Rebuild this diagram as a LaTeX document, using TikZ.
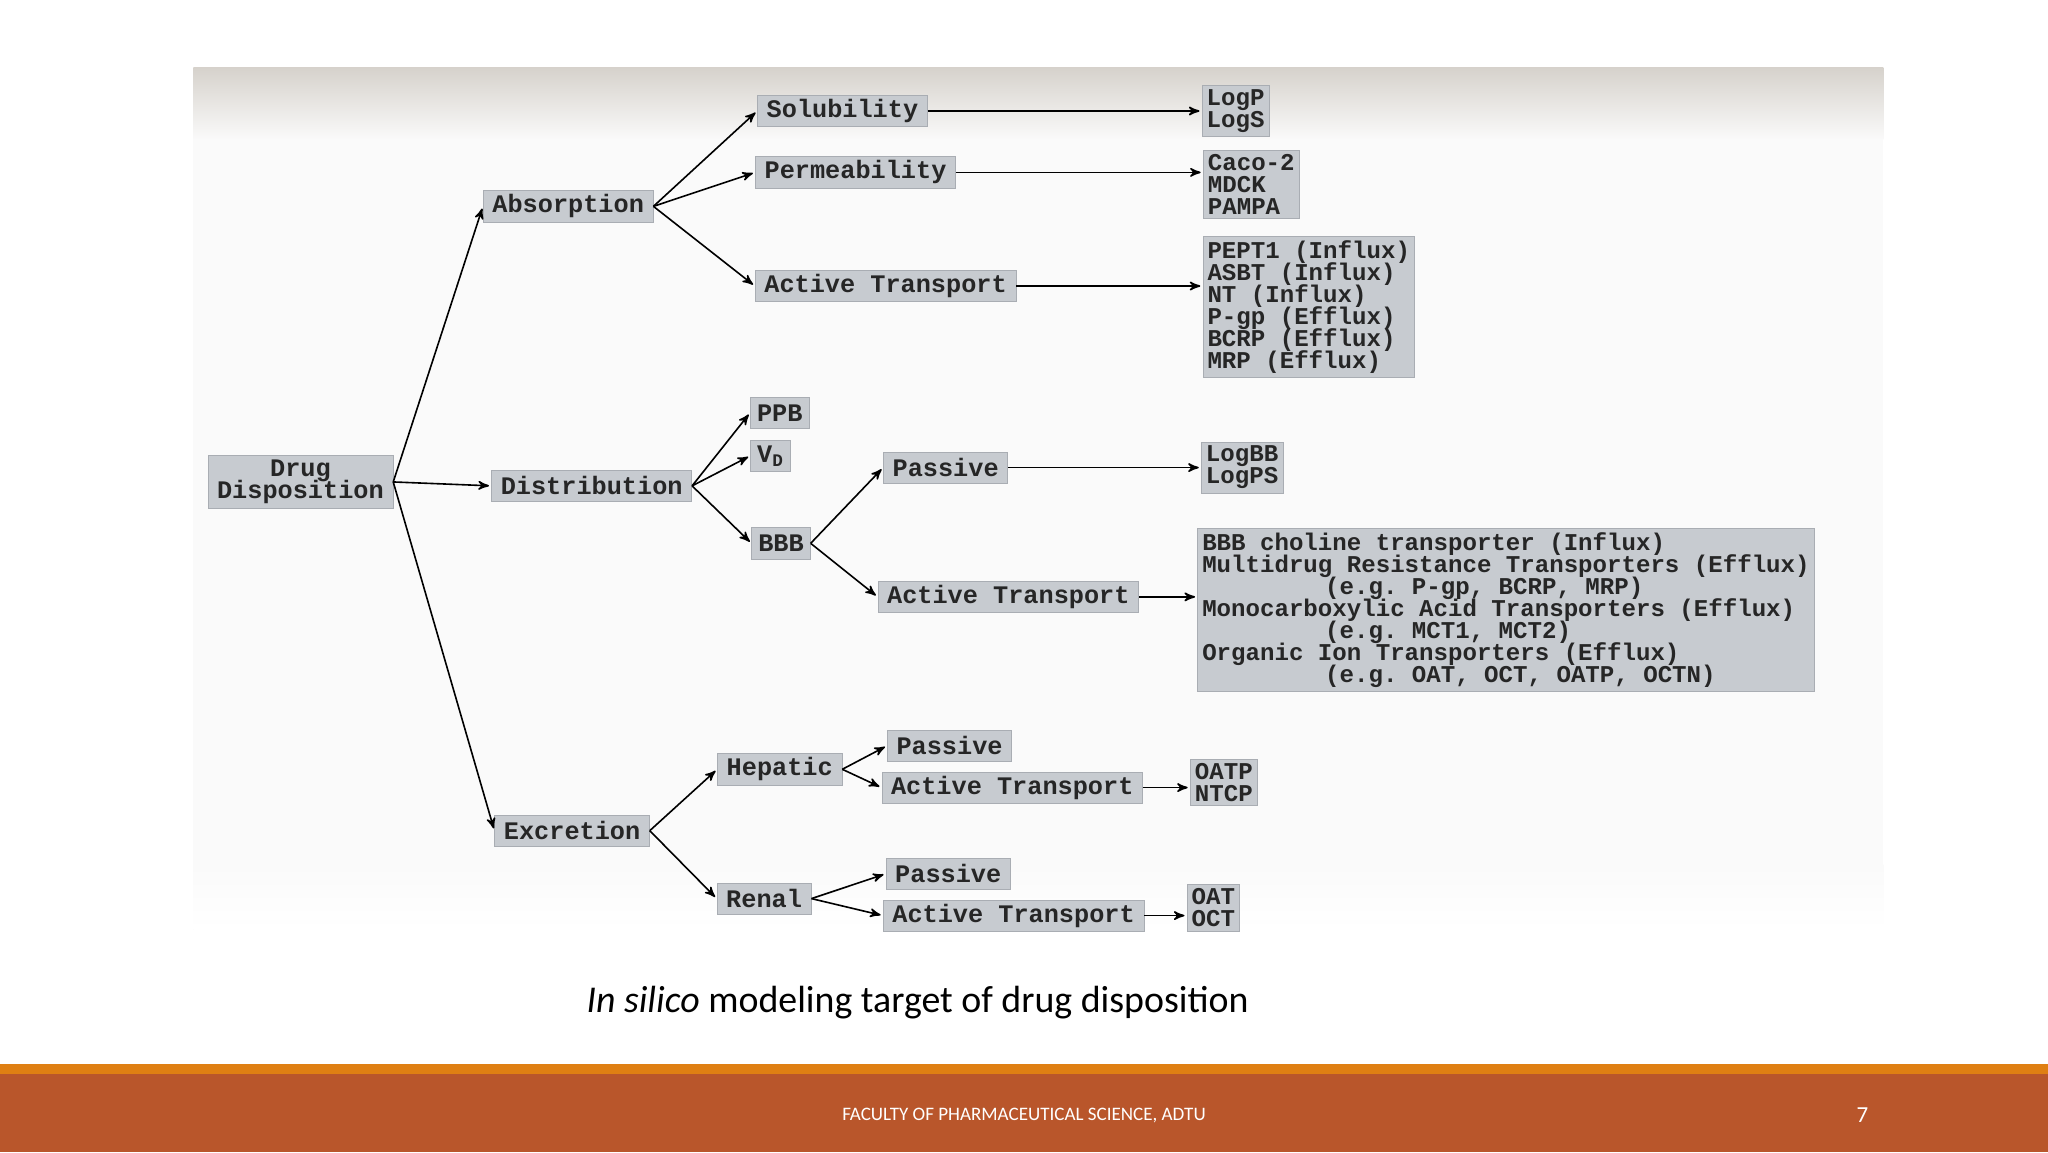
\documentclass[tikz,border=0pt]{standalone}
\usepackage{fontspec}
\setmainfont{Carlito}
\setmonofont{Liberation Mono}
\usetikzlibrary{arrows,positioning}

\definecolor{boxgray}{HTML}{C7CBD0}
\definecolor{boxedge}{HTML}{A9ADB3}
\definecolor{inkgray}{HTML}{262626}
\definecolor{photobg}{HTML}{FAFAFA}
\definecolor{bandgray}{HTML}{D6D2CC}
\definecolor{barorange}{HTML}{DF7F13}
\definecolor{barrust}{HTML}{B9562B}

\newcommand{\boxfont}{\fontsize{11}{9.8}\selectfont\lineskiplimit=-\maxdimen\ttfamily\bfseries}
\newcommand{\listfont}{\fontsize{10.5}{9.6}\selectfont\lineskiplimit=-\maxdimen\ttfamily\bfseries}

\begin{document}
\begin{tikzpicture}[shorten >=1pt,on grid,>=stealth',
    box/.style={fill=boxgray,draw=boxedge,line width=0.3pt,text=inkgray,font=\boxfont,
                inner xsep=0.14cm,inner ysep=1pt,minimum height=0.48cm},
    listbox/.style={box,font=\listfont,align=left,inner xsep=0.07cm,inner ysep=0.06cm}]
    \useasboundingbox (0,0) rectangle (31.36,17.64);

    % slide and photo background
    \fill[white] (0,0) rectangle (31.36,17.64);
    \fill[photobg] (2.96,3.40) rectangle (28.84,16.60);
    \shade[top color=bandgray,bottom color=photobg] (2.96,15.50) rectangle (28.84,16.60);
    \shade[top color=photobg,bottom color=white] (2.96,3.40) rectangle (28.84,4.40);
    \fill[barrust] (0,0) rectangle (31.36,1.20);
    \fill[barorange] (0,1.20) rectangle (31.36,1.34);

    \node[box]     (drug)    [align=center,inner ysep=2pt] at (4.60,10.26) {Drug\\Disposition};
    \node[box]     (abs)     [above right=4.22cm and 4.10cm of drug]   {Absorption};
    \node[box]     (dist)    [below right=0.06cm and 4.46cm of drug]   {Distribution};
    \node[box]     (exc)     [below right=5.34cm and 4.16cm of drug]   {Excretion};

    \node[box]     (sol)     [above right=1.46cm and 4.20cm of abs]    {Solubility};
    \node[box]     (perm)    [above right=0.52cm and 4.40cm of abs]    {Permeability};
    \node[box]     (absat)   [below right=1.22cm and 4.86cm of abs]    {Active Transport};
    \node[listbox] (logp)    [right=6.02cm of sol]                     {LogP\\LogS};
    \node[listbox] (caco)    [below right=0.18cm and 6.06cm of perm]   {Caco-2\\MDCK\\PAMPA};
    \node[listbox] (pept)    [below right=0.32cm and 6.48cm of absat]
        {PEPT1 (Influx)\\ASBT (Influx)\\NT (Influx)\\P-gp (Efflux)\\BCRP (Efflux)\\MRP (Efflux)};

    \node[box,inner xsep=0.1cm] (ppb) [above right=1.12cm and 2.88cm of dist] {PPB};
    \node[box,inner xsep=0.1cm] (vd)  [above right=0.46cm and 2.74cm of dist] {V\textsubscript{D}};
    \node[box,inner xsep=0.1cm] (bbb) [below right=0.88cm and 2.90cm of dist] {BBB};
    \node[box]     (bbbp)    [above right=1.16cm and 2.52cm of bbb]    {Passive};
    \node[box]     (bbbat)   [below right=0.82cm and 3.48cm of bbb]    {Active Transport};
    \node[listbox] (logbb)   [right=4.54cm of bbbp]                    {LogBB\\LogPS};
    \node[listbox] (bbblist) [below right=0.20cm and 7.62cm of bbbat]
        {BBB choline transporter (Influx)\\
         Multidrug Resistance Transporters (Efflux)\\
         \hspace*{5.1em}(e.g. P-gp, BCRP, MRP)\\
         Monocarboxylic Acid Transporters (Efflux)\\
         \hspace*{5.1em}(e.g. MCT1, MCT2)\\
         Organic Ion Transporters (Efflux)\\
         \hspace*{5.1em}(e.g. OAT, OCT, OATP, OCTN)};

    \node[box]     (hep)     [above right=0.94cm and 3.18cm of exc]    {Hepatic};
    \node[box]     (ren)     [below right=1.04cm and 2.94cm of exc]    {Renal};
    \node[box]     (hepp)    [above right=0.36cm and 2.60cm of hep]    {Passive};
    \node[box]     (hepat)   [below right=0.28cm and 3.56cm of hep]    {Active Transport};
    \node[listbox] (oatp)    [above right=0.08cm and 3.24cm of hepat]  {OATP\\NTCP};
    \node[box]     (renp)    [above right=0.38cm and 2.82cm of ren]    {Passive};
    \node[box]     (renat)   [below right=0.26cm and 3.82cm of ren]    {Active Transport};
    \node[listbox] (oat)     [above right=0.12cm and 3.06cm of renat]  {OAT\\OCT};

    \path[->,line width=0.7pt]
                (drug.east)  edge (abs.west)
                (drug.east)  edge (dist.west)
                (drug.east)  edge (exc.west)
                (abs.east)   edge (sol.west)
                (abs.east)   edge (perm.west)
                (abs.east)   edge (absat.west)
                (sol.east)   edge (sol.east -| logp.west)
                (perm.east)  edge (perm.east -| caco.west)
                (absat.east) edge (absat.east -| pept.west)
                (dist.east)  edge (ppb.west)
                (dist.east)  edge (vd.west)
                (dist.east)  edge (bbb.west)
                (bbb.east)   edge (bbbp.west)
                (bbb.east)   edge (bbbat.west)
                (bbbp.east)  edge (bbbp.east -| logbb.west)
                (bbbat.east) edge (bbbat.east -| bbblist.west)
                (exc.east)   edge (hep.west)
                (exc.east)   edge (ren.west)
                (hep.east)   edge (hepp.west)
                (hep.east)   edge (hepat.west)
                (hepat.east) edge (hepat.east -| oatp.west)
                (ren.east)   edge (renp.west)
                (ren.east)   edge (renat.west)
                (renat.east) edge (renat.east -| oat.west)
                ;

    % caption and footer
    \node (caption) at (14.05,2.28) {\fontsize{16.5}{20}\selectfont\textit{In silico} modeling target of drug disposition};
    \node[text=white] (footer) at (15.68,0.56) {\fontsize{8.3}{10}\selectfont FACULTY OF PHARMACEUTICAL SCIENCE, ADTU};
    \node[text=white] (pagenum) at (28.52,0.56) {\fontsize{10}{12}\selectfont 7};
\end{tikzpicture}
\end{document}
